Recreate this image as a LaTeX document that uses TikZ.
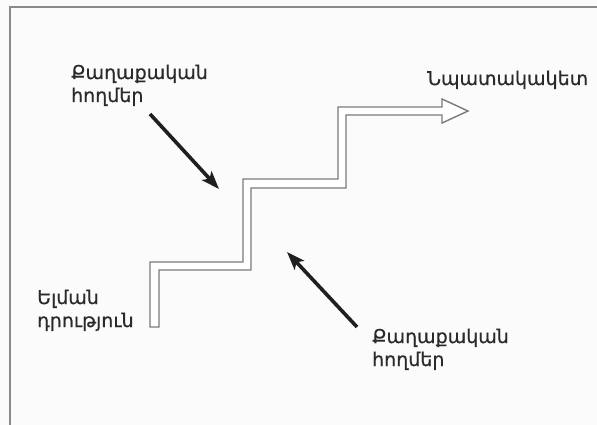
\documentclass[tikz,border=0pt]{standalone}
\usepackage{fontspec}
\setmainfont[FakeBold=0.6]{DejaVu Sans}
\usetikzlibrary{arrows.meta}
\definecolor{frame}{HTML}{8A8A8A}
\definecolor{stair}{HTML}{7A7A7A}
\definecolor{txt}{HTML}{2A2A2A}
\definecolor{bg}{HTML}{FBFBFB}
\tikzset{
  lbl/.style={anchor=base west, inner sep=0pt, align=left, text=txt,
    font=\fontsize{19}{23}\selectfont},
  wind/.style={line width=3.6pt, color=black!88,
    -{Stealth[length=18pt,width=13pt,inset=4pt]}},
  hollow/.style={draw=stair, line width=1.4pt, fill=white, line join=miter}
}
\begin{document}
\begin{tikzpicture}[x=1pt,y=-1pt]
\useasboundingbox (0,0) rectangle (597,425);
\fill[bg] (0,0) rectangle (597,425);
% frame
\draw[frame, line width=1.8pt] (10,425) -- (10,7) -- (597,7);
% hollow stair arrow
\draw[hollow] (150,327) -- (150,262) -- (243,262) -- (243,179) -- (338,179)
  -- (338,107) -- (442,107) -- (442,99) -- (468,111) -- (442,123)
  -- (442,115) -- (346,115) -- (346,188) -- (251,188) -- (251,270)
  -- (159,270) -- (159,327) -- cycle;
% labels (anchor = baseline of last line)
\node[lbl] (wtop) at (71,102) {Քաղաքական\\հողմեր};
\node[lbl] (wbot) at (372,366) {Քաղաքական\\հողմեր};
\node[lbl] (goal) at (427,85) {Նպատակակետ};
\node[lbl] (start) at (37,327) {Ելման\\դրություն};
% wind arrows
\coordinate (a1) at (150,114);
\coordinate (b1) at (219,189);
\coordinate (a2) at (357,327);
\coordinate (b2) at (287,252);
\draw[wind] (a1) -- (b1);
\draw[wind] (a2) -- (b2);
\end{tikzpicture}
\end{document}
